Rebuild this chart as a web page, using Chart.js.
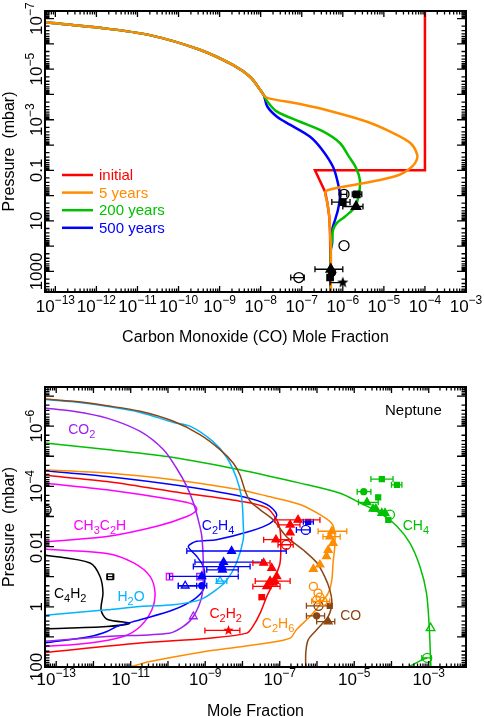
<!DOCTYPE html>
<html lang="en">
<head>
<meta charset="UTF-8">
<title>CO and hydrocarbon profiles</title>
<script src="https://cdn.jsdelivr.net/npm/chart.js"></script>
<style>
  body { margin: 0; background: #fff; }
  #wrap { position: relative; width: 484px; height: 717px; overflow: hidden; }
  canvas { position: absolute; left: 0; }
</style>
</head>
<body>
<div id="wrap">
  <canvas id="coChart" width="484" height="360" style="top:0"></canvas>
  <canvas id="nepChart" width="484" height="357" style="top:360px"></canvas>
</div>
<script>
// ---------- top panel: CO profiles  [mole fraction, pressure mbar] ----------
const coXTicks = [1e-13, 1e-12, 1e-11, 1e-10, 1e-9, 1e-8, 1e-7, 1e-6, 1e-5, 1e-4, 1e-3];
const coYTicks = [1e-7, 1e-5, 1e-3, 0.1, 10, 1000];

const coInitial = [[1e-4, 4e-8], [1e-4, 0.1], [2.1e-7, 0.1], [3.7e-7, 0.7], [4.2e-7, 1.9],
  [4.7e-7, 7], [4.9e-7, 30], [5.1e-7, 140], [5.1e-7, 7000]];
const coUpper = [[5.6e-14, 1.4e-7], [1.2e-12, 2.3e-7], [2.0e-11, 4.5e-7], [3.3e-10, 1.7e-6],
  [2.1e-9, 6.8e-6], [5.5e-9, 2e-5], [9.8e-9, 6.6e-5], [1.2e-8, 1.1e-4]];
const co5yr = [...coUpper, [1.5e-8, 1.4e-4], [9.1e-8, 2.4e-4], [5.7e-7, 4.8e-4], [3.9e-6, 1.2e-3],
  [1.65e-5, 3.3e-3], [4.4e-5, 8.3e-3], [6.5e-5, 0.025], [5.8e-5, 0.051], [3.9e-5, 0.095],
  [2.4e-5, 0.15], [8.1e-6, 0.24], [1.8e-6, 0.38], [4.4e-7, 0.6], [3.7e-7, 0.78], [4.2e-7, 1.9],
  [4.7e-7, 7], [4.9e-7, 30], [5.1e-7, 140], [5.1e-7, 7000]];
const co200yr = [...coUpper, [1.45e-8, 1.9e-4], [2.5e-8, 4.8e-4], [9.1e-8, 1.2e-3], [3.3e-7, 2.9e-3],
  [8.5e-7, 8.3e-3], [1.4e-6, 0.028], [2.1e-6, 0.08], [2.6e-6, 0.24], [2.5e-6, 0.78], [2.0e-6, 2.8],
  [1.1e-6, 7], [7.2e-7, 12], [5.8e-7, 23], [5.5e-7, 56], [5.1e-7, 140], [5.1e-7, 7000]];
const co500yr = [...coUpper, [1.45e-8, 3e-4], [2.5e-8, 7.6e-4], [5.3e-8, 1.6e-3], [1.6e-7, 4.7e-3],
  [3.1e-7, 0.015], [5.8e-7, 0.074], [7.6e-7, 0.32], [8.5e-7, 1.1], [7.6e-7, 3.7], [6.5e-7, 9],
  [5.5e-7, 23], [5.5e-7, 74], [5.1e-7, 140], [5.1e-7, 7000]];

// observations [x, p, xlo, xhi]
const coObsOpen = [[1.07e-6, 0.89, 9e-7, 1.25e-6], [1.07e-6, 95], [8.5e-8, 1740, 5.4e-8, 1.15e-7]];
const coObsSquare = [[2.2e-6, 0.89, 1.7e-6, 2.9e-6], [1.0e-6, 1.8, 5.4e-7, 1.5e-6], [4.9e-7, 1740]];
const coObsTri = [[2.1e-6, 2.7, 1.0e-6, 3.1e-6], [5.1e-7, 820, 2.1e-7, 1.0e-6]];
const coObsDot = [[5.5e-7, 1100]];
const coObsStar = [[1.0e-6, 2750, 4.9e-7, 1.0e-6]];

const coLegend = [['initial', '#ff0000'], ['5 years', '#ff8c00'], ['200 years', '#00c000'], ['500 years', '#0000ff']];

// ---------- bottom panel: Neptune ----------
const nepXTicks = [1e-13, 1e-11, 1e-9, 1e-7, 1e-5, 1e-3];
const nepYTicks = [1e-6, 1e-4, 0.01, 1, 100];

const nepCO = [[5e-14, 1.26e-7], [2.9e-13, 1.5e-7], [2.3e-12, 2.1e-7], [1.8e-11, 3.2e-7], [1.4e-10, 6.9e-7],
  [7.2e-10, 1.9e-6], [2.5e-9, 6.0e-6], [5.7e-9, 1.7e-5], [8.5e-9, 4.1e-5], [1.2e-8, 1.5e-4],
  [1.6e-8, 3.1e-4], [3.0e-8, 6.0e-4], [6.7e-8, 1.3e-3], [1.5e-7, 4.6e-3], [4.3e-7, 1.3e-2],
  [9.8e-7, 3.4e-2], [1.6e-6, 9.8e-2], [2.2e-6, 0.27], [2.5e-6, 0.74], [2.0e-6, 2.1], [9.8e-7, 5.8],
  [5.8e-7, 12.5], [5.0e-7, 34], [5.0e-7, 115]];
const nepH2O = [[5e-14, 1.3e-7], [2.9e-13, 1.55e-7], [2.3e-12, 2.2e-7], [1.8e-11, 3.5e-7], [1.4e-10, 7.5e-7],
  [3.9e-10, 1.0e-6], [1.6e-9, 3.2e-6], [3.8e-9, 1.1e-5], [6.9e-9, 5.3e-5], [9.5e-9, 2.4e-4],
  [1.05e-8, 1.9e-3], [1.05e-8, 5.9e-3], [6.9e-9, 3.5e-2], [3.8e-9, 0.13], [2.0e-9, 0.27],
  [7.2e-10, 0.59], [1.4e-10, 0.85], [1.8e-11, 0.98], [2.3e-12, 1.26], [5e-14, 1.9]];
const nepCO2 = [[5e-14, 2.5e-7], [2.9e-13, 3.2e-7], [2.3e-12, 5.4e-7], [1.8e-11, 1.5e-6], [7.5e-11, 6.0e-6],
  [1.7e-10, 2.5e-5], [3.2e-10, 1.0e-4], [4.8e-10, 3.5e-4], [6.5e-10, 1.3e-3], [8.1e-10, 4.6e-3],
  [8.9e-10, 5.9e-2], [8.1e-10, 0.45], [4.8e-10, 2.1], [2.6e-10, 4.5], [1.1e-10, 7.5], [2.3e-12, 9.7],
  [5e-14, 14]];
const nepCH4 = [[5e-14, 3.6e-6], [2.3e-12, 6.0e-6], [1.4e-10, 1.1e-5], [8.5e-9, 2.8e-5], [3.5e-7, 7.8e-5],
  [4.2e-6, 1.7e-4], [1.4e-5, 3.5e-4], [4.9e-5, 7.7e-4], [1.4e-4, 2.1e-3], [3.1e-4, 7.6e-3],
  [5.8e-4, 4.6e-2], [8.7e-4, 0.35], [1.03e-3, 4.5], [1.12e-3, 57], [1.15e-3, 115]];
const nepCH4Deep = [[2.3e-4, 115], [7.1e-4, 55], [9.1e-4, 50]];
const nepC2H6 = [[5e-14, 2.8e-5], [2.3e-12, 3.6e-5], [1.4e-10, 6.0e-5], [8.5e-9, 1.3e-4], [4.5e-8, 2.1e-4],
  [3.5e-7, 4.0e-4], [1.2e-6, 8.7e-4], [2.5e-6, 1.7e-3], [3.0e-6, 3.5e-3], [3.0e-6, 1.0e-2],
  [2.7e-6, 3.5e-2], [2.5e-6, 0.13], [2.0e-6, 0.35], [1.2e-6, 0.85], [6.5e-7, 2.1], [2.8e-7, 5.8],
  [1.9e-7, 11], [4.5e-8, 16], [5.7e-9, 23], [1.1e-9, 30], [3.3e-11, 66], [9.5e-12, 100]];
const nepC2H4 = [[5e-14, 3.0e-5], [2.3e-12, 4.7e-5], [1.4e-10, 8.9e-5], [8.5e-9, 2.1e-4], [4.5e-8, 4.0e-4],
  [8.3e-8, 8.7e-4], [5.5e-8, 1.7e-3], [1.6e-8, 3.1e-3], [2.0e-9, 5.9e-3], [5.9e-10, 6.7e-3],
  [3.5e-10, 1.0e-2], [5.9e-10, 2.1e-2], [8.9e-10, 4.6e-2], [9.8e-10, 9.8e-2], [8.9e-10, 0.27],
  [4.8e-10, 0.59], [1.4e-10, 1.26], [1.8e-11, 2.7], [4.2e-12, 4.5], [2.3e-12, 6.6], [8.1e-13, 9.7],
  [5e-14, 16]];
const nepC2H2 = [[5e-14, 4.3e-5], [2.3e-12, 6.9e-5], [1.4e-10, 1.5e-4], [8.5e-9, 3.1e-4], [4.5e-8, 5.2e-4],
  [8.3e-8, 1.3e-3], [1.02e-7, 2.8e-3], [1.07e-7, 1.0e-2], [1.02e-7, 3.5e-2], [8.3e-8, 7.6e-2],
  [6.1e-8, 0.21], [4.5e-8, 0.45], [3.0e-8, 1.6], [1.9e-8, 4.5], [1.3e-8, 7.5], [1.3e-9, 11],
  [1.8e-11, 16], [5e-14, 33]];
const nepCH3C2H = [[5e-14, 7.8e-5], [2.3e-12, 1.3e-4], [1.4e-10, 2.8e-4], [4.8e-10, 4.0e-4], [5.9e-10, 6.0e-4],
  [3.2e-10, 1.0e-3], [5.0e-11, 2.1e-3], [2.3e-12, 4.6e-3], [5e-14, 7.0e-3], [2e-14, 9e-3], [5e-14, 1.2e-2],
  [2.3e-12, 1.7e-2], [1.2e-11, 3.5e-2], [3.3e-11, 9.8e-2], [4.5e-11, 0.35], [3.7e-11, 1.26],
  [1.8e-11, 4.5], [6.3e-12, 9.7], [8.1e-13, 16], [5e-14, 21]];
const nepC4H2 = [[5e-14, 1.9e-2], [8.1e-13, 3.5e-2], [1.5e-12, 9.8e-2], [1.8e-12, 0.35], [1.6e-12, 1.26],
  [2.3e-12, 2.6], [9.5e-12, 3.5], [2.3e-12, 4.5], [5e-14, 5.4]];

// observations [x, p, xlo, xhi]
const obsC2H2Tri = [[3.1e-7, 1.3e-3, 7.4e-8, 1.2e-6], [1.9e-7, 1.9e-3, 9.0e-8, 3.5e-7], [1.9e-7, 3.4e-3],
  [7.9e-8, 5.9e-3, 3.7e-8, 2.1e-7], [3.7e-8, 3.5e-2, 1.9e-8, 5.5e-8], [6.1e-8, 5.2e-2], [8.3e-8, 9.8e-2],
  [5.5e-8, 0.14, 2.2e-8, 1.9e-7], [4.5e-8, 0.21, 1.9e-8, 1.02e-7], [6.7e-8, 0.16], [7.4e-8, 0.14]];
const obsC2H2Open = [[1.5e-7, 8.7e-3, 9.0e-8, 2.3e-7]];
const obsC2H2Square = [[3.3e-8, 0.48, 2.8e-8, 3.9e-8]];
const obsC2H2Star = [[4.2e-9, 6.1, 9.8e-10, 8.5e-9]];
const obsC2H4Tri = [[5.1e-9, 1.4e-2, 3.2e-10, 1.5e-7], [3.1e-9, 3.3e-2, 5.3e-10, 3.3e-8],
  [2.8e-9, 4.6e-2, 4.8e-10, 1.6e-8], [2.9e-9, 5.9e-2, 1.1e-9, 7.7e-9], [8.1e-10, 0.098, 1.1e-10, 7.7e-9]];
const obsC2H4Square = [[5.8e-7, 1.5e-3, 4.3e-7, 8.0e-7]];
const obsC2H4Open = [[5.0e-7, 2.8e-3, 2.8e-7, 6.5e-7]];
const obsC2H4OpenTri = [[2.9e-10, 0.2, 1.9e-10, 5.9e-10]];
const obsC2H4Dot = [[8.1e-10, 0.2, 1.9e-10, 1.1e-9]];
const obsCH3C2HSquare = [[1.1e-10, 0.1]];
const obsCO2Square = [[7.2e-10, 0.1]];
const obsCO2OpenTri = [[4.8e-10, 2.1]];
const obsH2OOpenTri = [[2.5e-9, 0.14, 2.0e-9, 3.8e-9]];
const obsC2H6Tri = [[2.5e-6, 3.1e-3, 1.07e-6, 6.3e-6], [2.2e-6, 4.7e-3, 1.45e-6, 4.2e-6], [2.7e-6, 7.6e-3],
  [2.0e-6, 1.3e-2], [1.8e-6, 2.1e-2], [1.2e-6, 4.0e-2], [8.0e-7, 5.6e-2]];
const obsC2H6Open = [[8.0e-7, 0.21], [1.07e-6, 0.35], [1.2e-6, 0.48], [9.8e-7, 0.59], [1.45e-6, 0.66, 7.2e-7, 2.2e-6]];
const obsCOOpen = [[1.1e-6, 0.93, 5.2e-7, 2.2e-6]];
const obsCOSquare = [[2.2e-6, 0.93]];
const obsCODot = [[9.8e-7, 2.0, 5.2e-7, 1.6e-6]];
const obsCOTri = [[2.0e-6, 3.1, 9.8e-7, 3.0e-6]];
const obsCH4Square = [[5.5e-5, 5.7e-5, 2.8e-5, 1.1e-4], [1.4e-4, 8.9e-5, 1.0e-4, 1.9e-4], [4.4e-5, 2.3e-4], [8.2e-5, 1.3e-3]];
const obsCH4Dot = [[1.8e-5, 1.5e-4, 1.2e-5, 2.8e-5]];
const obsCH4Tri = [[2.2e-5, 3.4e-4, 1.3e-5, 4.4e-5], [3.2e-5, 5.6e-4], [3.8e-5, 5.6e-4], [5.5e-5, 7.7e-4], [6.7e-5, 7.7e-4]];
const obsCH4Open = [[9.1e-5, 8.7e-4], [9.1e-4, 50, 6.5e-4, 1.15e-3]];
const obsCH4OpenTri = [[1.12e-3, 5.1]];
const obsC4H2Square = [[2.8e-12, 0.1, 2.3e-12, 3.5e-12]];
const obsLeftCircle = [[5.5e-14, 6e-4]];

// species labels [text, x, p]  (_n = subscript)
const nepLabels = [['Neptune', 6.7e-5, 4.2e-7, '#000'], ['CO_2', 2.1e-13, 1.8e-6, '#a020f0'],
  ['CH_3C_2H', 2.9e-13, 2.8e-3, '#ff00ff'], ['C_2H_4', 8.1e-10, 2.9e-3, '#0000ff'],
  ['CH_4', 2.0e-4, 2.8e-3, '#00c000'], ['C_4H_2', 8.7e-14, 0.51, '#000'], ['H_2O', 4.4e-12, 0.63, '#00b4ff'],
  ['C_2H_2', 1.3e-9, 2.3, '#ff0000'], ['C_2H_6', 3.3e-8, 5.1, '#ff8c00'], ['CO', 4.2e-6, 2.7, '#8b4513']];

// ---------- helpers ----------
const FONT = '"Liberation Sans", Arial, sans-serif';
const RED = '#ff0000', ORANGE = '#ff8c00', GREEN = '#00c000', BLUE = '#0000ff', CYAN = '#00b4ff',
  PURPLE = '#a020f0', MAGENTA = '#ff00ff', BROWN = '#8b4513', BLACK = '#000000';

function starImage(color, r) {
  const c = document.createElement('canvas');
  c.width = c.height = 2 * r + 2;
  const g = c.getContext('2d');
  g.fillStyle = color;
  g.beginPath();
  for (let i = 0; i < 10; i++) {
    const a = -Math.PI / 2 + i * Math.PI / 5;
    const rr = i % 2 ? r * 0.42 : r;
    g.lineTo(r + 1 + rr * Math.cos(a), r + 1 + rr * Math.sin(a));
  }
  g.closePath();
  g.fill();
  return c;
}

function curve(data, color, width, tension) {
  return {
    data: data.map(d => ({ x: d[0], y: d[1] })),
    showLine: true, borderColor: color, borderWidth: width, pointRadius: 0,
    tension: tension === undefined ? 0.3 : tension, fill: false
  };
}

function marks(data, style, color, filled, r) {
  return {
    data: data.map(d => ({ x: d[0], y: d[1], lo: d[2], hi: d[3] })),
    showLine: false, pointStyle: style, pointRadius: r, borderWidth: 1.3,
    borderColor: color, backgroundColor: filled ? color : 'rgba(0,0,0,0)', errColor: color
  };
}

// horizontal error bars, drawn just before the dataset's own markers
const errorBars = {
  id: 'errorBars',
  beforeDatasetDraw(chart, args) {
    const ds = chart.data.datasets[args.index];
    if (!ds.errColor) return;
    const { ctx, scales: { x, y } } = chart;
    ctx.save();
    ctx.strokeStyle = ds.errColor;
    ctx.lineWidth = 1.3;
    ds.data.forEach(d => {
      if (d.lo === undefined) return;
      const py = y.getPixelForValue(d.y);
      const x0 = x.getPixelForValue(d.lo), x1 = x.getPixelForValue(d.hi);
      ctx.beginPath();
      ctx.moveTo(x0, py); ctx.lineTo(x1, py);
      ctx.moveTo(x0, py - 3); ctx.lineTo(x0, py + 3);
      ctx.moveTo(x1, py - 3); ctx.lineTo(x1, py + 3);
      ctx.stroke();
    });
    ctx.restore();
  }
};

function tickText(v) {
  const e = Math.round(Math.log10(v));
  return e >= -2 ? [String(v), ''] : ['10', '\u2212' + Math.abs(e)];
}

function drawPow(ctx, v, x, y, centred) {
  const [base, sup] = tickText(v);
  ctx.font = '17px ' + FONT;
  const wb = ctx.measureText(base).width;
  ctx.font = '12px ' + FONT;
  const ws = sup ? ctx.measureText(sup).width : 0;
  const sx = centred ? x - (wb + ws) / 2 : x;
  ctx.font = '17px ' + FONT;
  ctx.fillText(base, sx, y);
  if (sup) {
    ctx.font = '12px ' + FONT;
    ctx.fillText(sup, sx + wb, y - 8);
  }
}

// IDL-like frame: inward log ticks on all four sides, rotated y labels, titles
function frame(opt) {
  return {
    id: 'frame',
    afterDraw(chart) {
      const { ctx, chartArea: a, scales: { x, y } } = chart;
      const logTicks = sc => {
        const out = [];
        for (let e = Math.floor(Math.log10(sc.min)); e <= Math.ceil(Math.log10(sc.max)); e++) {
          for (let m = 1; m < 10; m++) {
            const v = m * Math.pow(10, e);
            if (v >= sc.min && v <= sc.max) out.push([v, m === 1]);
          }
        }
        return out;
      };
      ctx.save();
      ctx.strokeStyle = BLACK;
      ctx.lineWidth = 1.3;
      ctx.beginPath();
      logTicks(x).forEach(([v, major]) => {
        const px = x.getPixelForValue(v), len = major ? 6 : 3.5;
        ctx.moveTo(px, a.bottom); ctx.lineTo(px, a.bottom - len);
        ctx.moveTo(px, a.top); ctx.lineTo(px, a.top + len);
      });
      logTicks(y).forEach(([v, major]) => {
        const py = y.getPixelForValue(v), len = major ? 9 : 4.5;
        ctx.moveTo(a.left, py); ctx.lineTo(a.left + len, py);
        ctx.moveTo(a.right, py); ctx.lineTo(a.right - len, py);
      });
      ctx.stroke();
      ctx.lineWidth = 2;
      ctx.strokeRect(a.left, a.top, a.right - a.left, a.bottom - a.top);

      ctx.fillStyle = BLACK;
      ctx.textBaseline = 'alphabetic';
      ctx.textAlign = 'left';
      opt.xTicks.forEach(v => drawPow(ctx, v, x.getPixelForValue(v), opt.xLabelY, true));
      opt.yTicks.forEach(v => {
        ctx.save();
        ctx.translate(opt.yLabelX, y.getPixelForValue(v));
        ctx.rotate(-Math.PI / 2);
        drawPow(ctx, v, 0, 0, true);
        ctx.restore();
      });

      ctx.font = '16px ' + FONT;
      ctx.textAlign = 'center';
      ctx.fillText(opt.xTitle, (a.left + a.right) / 2, opt.xTitleY);
      ctx.save();
      ctx.translate(opt.yTitleX, (a.top + a.bottom) / 2);
      ctx.rotate(-Math.PI / 2);
      ctx.fillText('Pressure  (mbar)', 0, 0);
      ctx.restore();
      ctx.restore();
    }
  };
}

const coLegendPlugin = {
  id: 'coLegend',
  afterDraw(chart) {
    const { ctx } = chart;
    ctx.save();
    ctx.font = '15px ' + FONT;
    ctx.textAlign = 'left';
    coLegend.forEach(([label, color], i) => {
      const cy = 175 + i * 17.6;
      ctx.strokeStyle = color;
      ctx.lineWidth = 2.5;
      ctx.beginPath();
      ctx.moveTo(62, cy); ctx.lineTo(93, cy);
      ctx.stroke();
      ctx.fillStyle = color;
      ctx.fillText(label, 99, cy + 5);
    });
    ctx.restore();
  }
};

const speciesLabels = {
  id: 'speciesLabels',
  afterDatasetsDraw(chart) {
    const { ctx, scales: { x, y } } = chart;
    ctx.save();
    ctx.textAlign = 'left';
    nepLabels.forEach(([text, vx, vp, color]) => {
      let cx = x.getPixelForValue(vx);
      const cy = y.getPixelForValue(vp);
      const size = text === 'Neptune' ? 15 : 14;
      ctx.fillStyle = color;
      text.split(/(_\d)/).filter(Boolean).forEach(part => {
        if (part[0] === '_') {
          ctx.font = '11px ' + FONT;
          ctx.fillText(part.slice(1), cx, cy + 4);
          cx += ctx.measureText(part.slice(1)).width;
        } else {
          ctx.font = size + 'px ' + FONT;
          ctx.fillText(part, cx, cy);
          cx += ctx.measureText(part).width;
        }
      });
    });
    ctx.restore();
  }
};

function baseOptions(pad, xr, yr) {
  return {
    responsive: false, animation: false, devicePixelRatio: 1,
    layout: { padding: pad },
    plugins: { legend: { display: false }, tooltip: { enabled: false } },
    scales: {
      x: { type: 'logarithmic', min: xr[0], max: xr[1], display: false },
      y: { type: 'logarithmic', reverse: true, min: yr[0], max: yr[1], display: false }
    }
  };
}

// ---------- top chart ----------
new Chart(document.getElementById('coChart'), {
  type: 'scatter',
  data: {
    datasets: [
      marks(coObsOpen, 'circle', BLACK, false, 5),
      marks(coObsSquare, 'rect', BLACK, true, 4.5),
      marks(coObsTri, 'triangle', BLACK, true, 5.5),
      marks(coObsDot, 'circle', BLACK, true, 3.5),
      marks(coObsStar, starImage(BLACK, 6), BLACK, true, 6),
      curve(co5yr, ORANGE, 2.5),
      curve(co200yr, GREEN, 2.5),
      curve(co500yr, BLUE, 2.5),
      curve(coInitial, RED, 2.5, 0)
    ]
  },
  options: baseOptions({ left: 45, right: 18, top: 11, bottom: 68 }, [5.6e-14, 1e-3], [5e-8, 6.5e3]),
  plugins: [errorBars, coLegendPlugin, frame({
    xTicks: coXTicks, yTicks: coYTicks, xLabelY: 312, yLabelX: 42,
    xTitle: 'Carbon Monoxide (CO) Mole Fraction', xTitleY: 342, yTitleX: 14
  })]
});

// ---------- bottom chart ----------
new Chart(document.getElementById('nepChart'), {
  type: 'scatter',
  data: {
    datasets: [
      marks(obsC2H2Tri, 'triangle', RED, true, 4.5),
      marks(obsC2H2Open, 'circle', RED, false, 4.5),
      marks(obsC2H2Square, 'rect', RED, true, 3.5),
      marks(obsC2H2Star, starImage(RED, 5.5), RED, true, 5.5),
      marks(obsC2H4Tri, 'triangle', BLUE, true, 4.5),
      marks(obsC2H4Square, 'rect', BLUE, true, 3.5),
      marks(obsC2H4Open, 'circle', BLUE, false, 4.5),
      marks(obsC2H4OpenTri, 'triangle', BLUE, false, 4.5),
      marks(obsC2H4Dot, 'circle', BLUE, true, 3),
      marks(obsCH3C2HSquare, 'rect', MAGENTA, false, 4.5),
      marks(obsCO2Square, 'rect', PURPLE, false, 4.5),
      marks(obsCO2OpenTri, 'triangle', PURPLE, false, 4.5),
      marks(obsH2OOpenTri, 'triangle', CYAN, false, 4.5),
      marks(obsC2H6Tri, 'triangle', ORANGE, true, 4.5),
      marks(obsC2H6Open, 'circle', ORANGE, false, 4),
      marks(obsCOOpen, 'circle', BROWN, false, 4.5),
      marks(obsCOSquare, 'rect', BROWN, true, 3.5),
      marks(obsCODot, 'circle', BROWN, true, 3),
      marks(obsCOTri, 'triangle', BROWN, true, 4.5),
      marks(obsCH4Square, 'rect', GREEN, true, 3.5),
      marks(obsCH4Dot, 'circle', GREEN, true, 3),
      marks(obsCH4Tri, 'triangle', GREEN, true, 4.5),
      marks(obsCH4Open, 'circle', GREEN, false, 4.5),
      marks(obsCH4OpenTri, 'triangle', GREEN, false, 5),
      marks(obsC4H2Square, 'rect', BLACK, false, 4),
      marks(obsLeftCircle, 'circle', BLACK, false, 4.5),
      curve(nepCO, BROWN, 1.5),
      curve(nepH2O, CYAN, 1.5),
      curve(nepCO2, PURPLE, 1.5),
      curve(nepCH4, GREEN, 1.5),
      curve(nepCH4Deep, GREEN, 1.5, 0),
      curve(nepC2H6, ORANGE, 1.5),
      curve(nepC2H4, BLUE, 1.5),
      curve(nepC2H2, RED, 1.5),
      curve(nepCH3C2H, MAGENTA, 1.5),
      curve(nepC4H2, BLACK, 1.5)
    ]
  },
  options: baseOptions({ left: 45, right: 18, top: 27, bottom: 50 }, [5e-14, 1e-2], [5e-8, 100]),
  plugins: [errorBars, speciesLabels, frame({
    xTicks: nepXTicks, yTicks: nepYTicks, xLabelY: 325, yLabelX: 42,
    xTitle: 'Mole Fraction', xTitleY: 356, yTitleX: 14
  })]
});
</script>
</body>
</html>
